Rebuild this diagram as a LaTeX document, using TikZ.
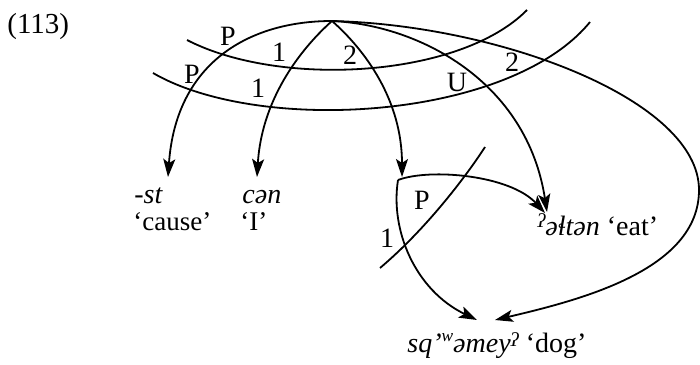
\documentclass[tikz,border=0pt]{standalone}
\usepackage{fontspec}
\usepackage{graphicx}
\setmainfont{Liberation Serif}
\usetikzlibrary{arrows.meta}
\newcommand\glt[1]{\raisebox{#1}{\scalebox{0.7}{ʔ}}}
\newcommand\labw{\raisebox{0.36em}{\scalebox{0.62}{w}}}
\tikzset{
  edge/.style={line width=0.9pt},
  arr/.style={edge,-{Stealth[length=9pt,width=6pt,inset=2pt]}},
  lbl/.style={inner sep=0pt,anchor=center},
  txt/.style={inner sep=0pt,anchor=base west},
}
\begin{document}
\begin{tikzpicture}[x=0.5pt,y=-0.5pt,font=\fontsize{14}{16}\selectfont]
\useasboundingbox (0,0) rectangle (700,364);
% key points
\coordinate (A) at (332,21);
\coordinate (st) at (168,177);
\coordinate (cen) at (257,177);
\coordinate (jt) at (402,177);
\coordinate (J) at (398,180);
\coordinate (eat) at (547,212);
\coordinate (eat2) at (545,213);
\coordinate (dogL) at (477,320);
\coordinate (dogR) at (495,320);
\coordinate (R) at (699,190);
% cross lines
\coordinate (u0) at (187,40);  \coordinate (u1) at (527,10);
\coordinate (l0) at (153,73);  \coordinate (l1) at (590,22);
\coordinate (c0) at (485,147); \coordinate (c1) at (380,268);
\draw[edge] (u0) .. controls (280,88) and (460,78) .. (u1);
\draw[edge] (l0) .. controls (260,135) and (510,120) .. (l1);
\draw[edge] (c0) .. controls (465,178) and (425,230) .. (c1);
% arrows from apex
\draw[arr] (A) .. controls (250,21) and (176,62) .. (st);
\draw[arr] (A) .. controls (305,45) and (262,95) .. (cen);
\draw[arr] (A) .. controls (365,50) and (402,100) .. (jt);
\draw[arr] (A) .. controls (420,25) and (527,82) .. (eat);
\draw[edge] (A) .. controls (500,25) and (699,100) .. (R);
\draw[arr] (R) .. controls (699,270) and (580,300) .. (dogR);
% arrows from junction
\draw[arr] (J) .. controls (430,168) and (510,175) .. (eat2);
\draw[arr] (J) .. controls (390,230) and (415,290) .. (dogL);
% labels
\node[lbl] (p1) at (228,36) {P};
\node[lbl] (p2) at (192,74) {P};
\node[lbl] (n1) at (279,52) {1};
\node[lbl] (n2) at (258,88) {1};
\node[lbl] (n3) at (350,55) {2};
\node[lbl] (uu) at (457,82) {U};
\node[lbl] (n4) at (512,62) {2};
\node[lbl] (p3) at (422,200) {P};
\node[lbl] (n5) at (387,238) {1};
% texts
\node[txt] (ex) at (7,33) {\fontsize{14.5}{16}\selectfont (113)};
\node[txt] (t1) at (134,203) {\itshape -st};
\node[txt] (t2) at (133,230) {\fontsize{13.5}{16}\selectfont ‘cause’};
\node[txt] (t3) at (242,203) {\itshape cən};
\node[txt] (t4) at (240,230) {\fontsize{13.5}{16}\selectfont ‘I’};
\node[txt] (t5) at (537,235) {\itshape \glt{0.28em}əɬtən\upshape{} ‘eat’};
\node[txt] (t6) at (407,352) {\itshape sq’\labw əmey\glt{0.2em}\upshape{} ‘dog’};
\end{tikzpicture}
\end{document}
